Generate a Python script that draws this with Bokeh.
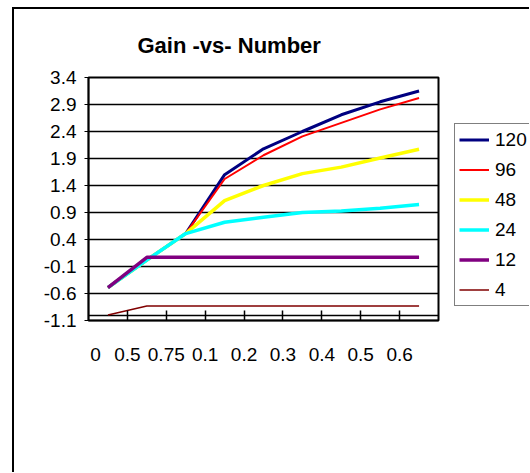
from bokeh.plotting import figure
from bokeh.models import (FixedTicker, LinearAxis, Legend, LegendItem, Range1d,
                          PrintfTickFormatter, Row)
from bokeh.embed import file_html
from bokeh.resources import INLINE

# ---- data ----
categories = ["0", "0.5", "0.75", "0.1", "0.2", "0.3", "0.4", "0.5", "0.6"]
series_names = ["120", "96", "48", "24", "12", "4"]
gain_120 = [-0.49, 0.02, 0.51, 1.60, 2.08, 2.40, 2.71, 2.95, 3.15]
gain_96 = [-0.49, 0.02, 0.51, 1.52, 1.96, 2.31, 2.56, 2.81, 3.02]
gain_48 = [-0.49, 0.02, 0.51, 1.12, 1.40, 1.62, 1.74, 1.91, 2.07]
gain_24 = [-0.49, 0.02, 0.51, 0.72, 0.81, 0.90, 0.93, 0.98, 1.05]
gain_12 = [-0.49, 0.07, 0.07, 0.07, 0.07, 0.07, 0.07, 0.07, 0.07]
gain_4 = [-1.00, -0.83, -0.83, -0.83, -0.83, -0.83, -0.83, -0.83, -0.83]
y_ticks = [-1.1, -0.6, -0.1, 0.4, 0.9, 1.4, 1.9, 2.4, 2.9, 3.4]
axis_cross = -1.0

series = [gain_120, gain_96, gain_48, gain_24, gain_12, gain_4]
colors = ["#000080", "#FF0000", "#FFFF00", "#00FFFF", "#800080", "#800000"]
widths = [3, 2, 3.5, 3.5, 3.5, 1.5]

FONT = "Liberation Sans"
xs = list(range(len(categories)))

p = figure(width=430, height=463, x_range=Range1d(-0.5, len(categories) - 0.5),
           y_range=Range1d(y_ticks[0], y_ticks[-1]), x_axis_type=None,
           output_backend="svg", toolbar_location=None,
           min_border_left=74, min_border_right=6, min_border_top=68, min_border_bottom=152)
p.margin = 0
p.background_fill_color = "white"
p.border_fill_color = "white"
p.outline_line_color = "black"
p.outline_line_width = 2

# title
p.title.text = "Gain -vs- Number"
p.title.text_font = FONT
p.title.text_font_size = "22px"
p.title.text_font_style = "bold"
p.title.text_color = "black"
p.title.align = "left"
p.title.offset = 49
p.title.standoff = 40

# y axis
yax = p.yaxis[0]
yax.ticker = FixedTicker(ticks=y_ticks)
yax.formatter = PrintfTickFormatter(format="%.1f")
yax.major_label_text_font = FONT
yax.major_label_text_font_size = "19px"
yax.major_label_text_color = "black"
yax.major_tick_out = 4
yax.major_tick_in = 0
yax.minor_tick_line_color = None
yax.axis_line_color = "black"
yax.axis_line_width = 1.5
yax.major_tick_line_color = "black"
yax.major_label_standoff = 8

p.ygrid.ticker = FixedTicker(ticks=y_ticks + [axis_cross])
p.ygrid.grid_line_color = "black"
p.ygrid.grid_line_width = 1.3

# x axis: cross ticks between categories
boundaries = [i + 0.5 for i in range(len(categories) - 1)]
tick_axis = LinearAxis(ticker=FixedTicker(ticks=boundaries),
                       major_label_overrides={b: "" for b in boundaries},
                       major_label_text_font_size="1px", major_label_standoff=0,
                       major_tick_in=10, major_tick_out=0, minor_tick_line_color=None,
                       major_tick_line_color="black", major_tick_line_width=1.5,
                       axis_line_color="black", axis_line_width=1.5)
p.add_layout(tick_axis, "below")

label_pos = [-0.32] + boundaries
label_axis = LinearAxis(ticker=FixedTicker(ticks=label_pos),
                        major_label_overrides={pos: lab for pos, lab in zip(label_pos, categories)},
                        major_label_text_font=FONT, major_label_text_font_size="19px",
                        major_label_text_color="black", major_label_standoff=21,
                        major_tick_line_color=None, minor_tick_line_color=None,
                        axis_line_color=None)
p.add_layout(label_axis, "below")

for ys, c, w in zip(series, colors, widths):
    p.line(xs, ys, line_color=c, line_width=w)

# legend panel (separate figure so the legend is not clipped by the plot area);
# its series copies lie outside its visible x range, only their legend swatches show
lf = figure(width=85, height=463, x_axis_type=None, y_axis_type=None,
            x_range=Range1d(-3, -2),
            y_range=Range1d(y_ticks[0], y_ticks[-1]),
            output_backend="svg", toolbar_location=None,
            min_border=0, outline_line_color=None)
lf.margin = 0
lf.background_fill_color = "white"
lf.border_fill_color = "white"
lf.xgrid.visible = False
lf.ygrid.visible = False
items = []
for name, ys, c, w in zip(series_names, series, colors, widths):
    r = lf.line(xs, ys, line_color=c, line_width=w)
    items.append(LegendItem(label=name, renderers=[r]))

legend = Legend(items=items, location=(10, 14), label_text_font=FONT,
                label_text_font_size="19px", label_text_color="black",
                label_height=23, glyph_height=23, glyph_width=30, spacing=7,
                padding=4, margin=0, label_standoff=6,
                border_line_color="black", border_line_width=1.5,
                background_fill_color="white", background_fill_alpha=1)
lf.add_layout(legend, "center")

layout = Row(children=[p, lf], spacing=0)
layout.styles = {"border-left": "2px solid black", "border-top": "2px solid black"}
layout.margin = (7, 0, 0, 12)

open("out.html", "w").write(file_html(layout, INLINE))
